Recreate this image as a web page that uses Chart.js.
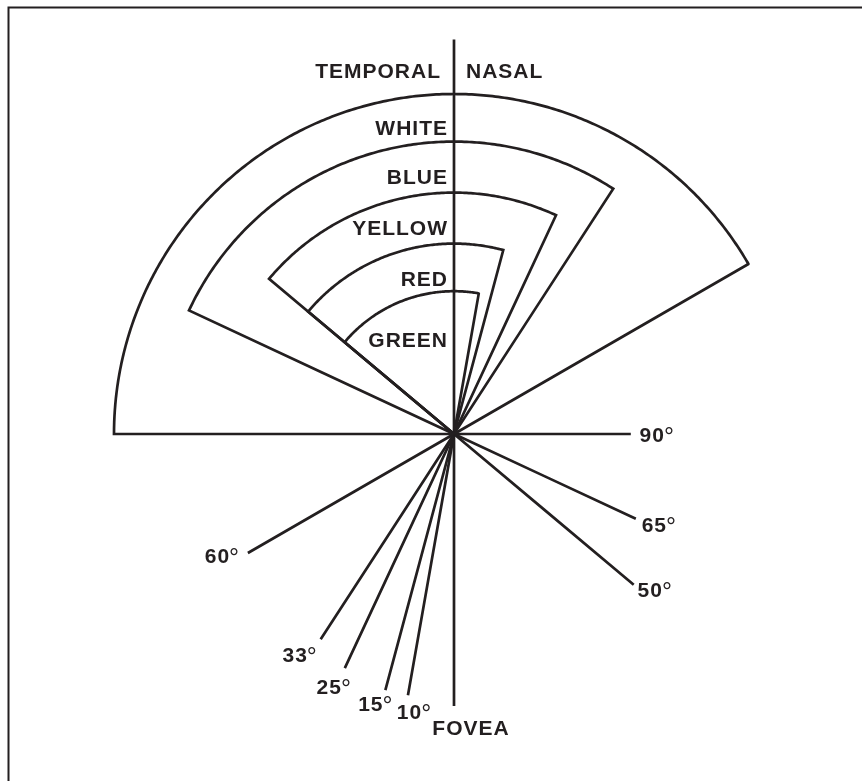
<!DOCTYPE html>
<html>
<head>
<meta charset="utf-8">
<title>Campo visual por color</title>
<script src="https://cdn.jsdelivr.net/npm/chart.js@4.4.1/dist/chart.umd.min.js"></script>
<style>
    html, body { margin: 0; padding: 0; background: #fff; }
    #wrap { position: relative; width: 862px; height: 781px; }
</style>
</head>
<body>
<div id="wrap"><canvas id="fieldChart" width="862" height="781"></canvas></div>
<script>
// Datos: límites del campo visual de cada color (grados desde la fóvea)
const colorNames = ['WHITE', 'BLUE', 'YELLOW', 'RED', 'GREEN'];
const fieldExtent = [100, 86, 71, 56, 42];      // radio relativo de cada arco
const temporalLimit = [90, 65, 50, 50, 50];
const nasalLimit = [60, 33, 25, 15, 10];
const sideLabels = ['TEMPORAL', 'NASAL'];
const foveaLabel = 'FOVEA';

// Maquetación
const INK = '#231f20';
const W = 862, H = 781;
const CX = 454, CY = 434, UNIT = 3.4;          // centro en px y px por unidad
const LABEL_FONT = 'bold 21px "Liberation Sans", Arial, sans-serif';
const DEG_FONT = '25px "Liberation Sans", Arial, sans-serif';
const axisTop = 116;
// prolongación de cada radio al otro lado del centro (unidades)
const tailLength = { 90: 52, 65: 59, 50: 69, 60: 70, 33: 72, 25: 76, 15: 78, 10: 78, 0: 80 };
// desplazamiento de la etiqueta respecto al extremo de la prolongación (px)
const labelNudge = { 90: [27, 8], 65: [24, 13], 50: [22, 12], 60: [-25, 10], 33: [-20, 23], 25: [-10, 26], 15: [-9, 21], 10: [7, 24], 0: [17, 29] };
const nameDrop = [41, 42, 42, 42, 56];

// t: grados desde la vertical (negativo = temporal), r negativo = lado opuesto
function polar(r, t) {
    const a = t * Math.PI / 180;
    return { x: r * Math.sin(a), y: r * Math.cos(a) };
}

// tensión mínima para evitar el "fast path" que colapsa puntos con igual x
const lineStyle = {
    showLine: true,
    pointRadius: 0,
    borderColor: INK,
    borderWidth: 2.7,
    borderJoinStyle: 'miter',
    fill: false,
    tension: 0.0001
};

const datasets = [];

// Sectores: centro -> extremo temporal -> arco -> extremo nasal -> centro
colorNames.forEach((name, i) => {
    const r = fieldExtent[i];
    const pts = [{ x: 0, y: 0 }];
    for (let t = -temporalLimit[i]; t < nasalLimit[i]; t += 1) pts.push(polar(r, t));
    pts.push(polar(r, nasalLimit[i]));
    pts.push({ x: 0, y: 0 });
    datasets.push({ ...lineStyle, label: name, data: pts });
});

// Prolongaciones con su ángulo
const tailAngles = [];
[...new Set(temporalLimit)].forEach(a => tailAngles.push({ deg: a, t: -a }));
[...new Set(nasalLimit)].forEach(a => tailAngles.push({ deg: a, t: a }));
tailAngles.forEach(s => {
    s.end = polar(-tailLength[s.deg], s.t);
    datasets.push({ ...lineStyle, label: s.deg + '°', data: [{ x: 0, y: 0 }, s.end] });
});

// Eje vertical (fóvea)
const foveaEnd = polar(-tailLength[0], 0);
datasets.push({ ...lineStyle, label: 'axis', data: [polar(axisTop, 0), foveaEnd] });

function drawDegree(ctx, value, cx, baseline) {
    ctx.font = LABEL_FONT;
    const num = String(value);
    const w1 = ctx.measureText(num).width;
    ctx.font = DEG_FONT;
    const w2 = ctx.measureText('°').width;
    const x0 = cx - (w1 + w2) / 2;
    ctx.textAlign = 'left';
    ctx.font = LABEL_FONT;
    ctx.fillText(num, x0, baseline);
    ctx.font = DEG_FONT;
    ctx.fillText('°', x0 + w1 - 1, baseline + 3);
}

const textPlugin = {
    id: 'fieldText',
    afterDatasetsDraw(chart) {
        const { ctx, scales: { x, y } } = chart;
        const px = p => [x.getPixelForValue(p.x), y.getPixelForValue(p.y)];
        ctx.save();
        ctx.fillStyle = INK;
        ctx.textBaseline = 'alphabetic';
        ctx.letterSpacing = '1px';
        const [ox] = px({ x: 0, y: 0 });

        // Temporal / nasal
        ctx.font = LABEL_FONT;
        const whiteTop = y.getPixelForValue(fieldExtent[0]);
        ctx.textAlign = 'right';
        ctx.fillText(sideLabels[0], ox - 13, whiteTop - 16);
        ctx.textAlign = 'left';
        ctx.fillText(sideLabels[1], ox + 12, whiteTop - 16);

        // Nombres de los colores bajo su arco
        ctx.textAlign = 'right';
        colorNames.forEach((name, i) => {
            const top = y.getPixelForValue(fieldExtent[i]);
            ctx.fillText(name, ox - 6, top + nameDrop[i]);
        });

        // Etiquetas de grados
        tailAngles.forEach(s => {
            const [ex, ey] = px(s.end);
            const [dx, dy] = labelNudge[s.deg];
            drawDegree(ctx, s.deg, ex + dx, ey + dy);
        });

        // Fóvea
        const [fx, fy] = px(foveaEnd);
        ctx.font = LABEL_FONT;
        ctx.textAlign = 'center';
        ctx.fillText(foveaLabel, fx + labelNudge[0][0], fy + labelNudge[0][1]);
        ctx.restore();
    },
    afterDraw(chart) {
        // marco superior e izquierdo
        const ctx = chart.ctx;
        ctx.save();
        ctx.strokeStyle = INK;
        ctx.lineWidth = 2;
        ctx.beginPath();
        ctx.moveTo(8.5, H);
        ctx.lineTo(8.5, 7.5);
        ctx.lineTo(W, 7.5);
        ctx.stroke();
        ctx.restore();
    }
};

new Chart(document.getElementById('fieldChart'), {
    type: 'scatter',
    data: { datasets },
    options: {
        responsive: false,
        maintainAspectRatio: false,
        animation: false,
        events: [],
        layout: { padding: 0 },
        scales: {
            x: { type: 'linear', display: false, min: -CX / UNIT, max: (W - CX) / UNIT },
            y: { type: 'linear', display: false, min: -(H - CY) / UNIT, max: CY / UNIT }
        },
        plugins: {
            legend: { display: false },
            tooltip: { enabled: false }
        }
    },
    plugins: [textPlugin]
});
</script>
</body>
</html>
